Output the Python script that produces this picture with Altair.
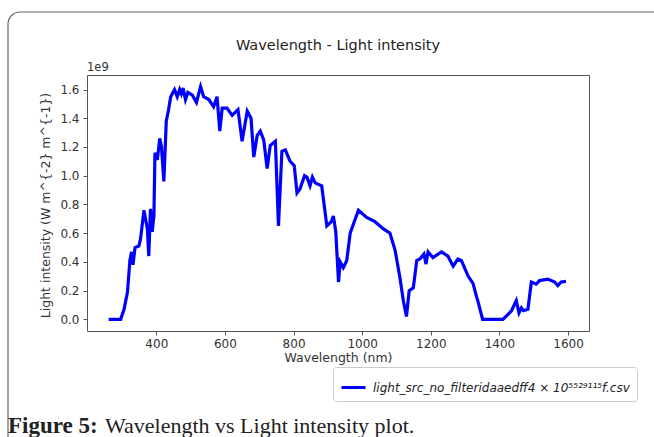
import altair as alt
import pandas as pd

# ---- data ----
wavelength_nm = [
    261, 280, 296, 306, 316, 323, 328, 332, 338, 349, 354, 364, 374, 378, 383, 388, 393, 396,
    403, 410, 415, 422, 429, 435, 442, 453, 461, 468, 473, 478, 485, 492, 505, 517, 529, 538,
    553, 567, 577, 585, 592, 606, 621, 638, 650, 665, 676, 684, 694, 703, 713, 723, 732, 747,
    756, 766, 776, 790, 802, 810, 819, 832, 839, 848, 855, 863, 882, 897, 910, 916, 923, 931,
    936, 945, 955, 965, 974, 989, 1013, 1037, 1062, 1081, 1096, 1110, 1120, 1129, 1137, 1149,
    1159, 1168, 1180, 1186, 1192, 1206, 1231, 1250, 1265, 1279, 1289, 1309, 1323, 1333, 1338,
    1351, 1410, 1425, 1435, 1449, 1457, 1464, 1470, 1483, 1493, 1507, 1517, 1541, 1561, 1570,
    1580, 1594,
]
intensity_1e9 = [
    0.0, 0.0, 0.0, 0.07, 0.19, 0.41, 0.47, 0.38, 0.50, 0.51, 0.56, 0.76, 0.63, 0.44, 0.77, 0.61, 0.72, 1.16,
    1.11, 1.26, 1.20, 0.96, 1.38, 1.45, 1.55, 1.60, 1.55, 1.60, 1.57, 1.61, 1.53, 1.58, 1.56, 1.51, 1.62, 1.55,
    1.53, 1.48, 1.55, 1.31, 1.47, 1.47, 1.42, 1.46, 1.24, 1.45, 1.40, 1.13, 1.28, 1.31, 1.25, 1.05, 1.21, 1.24,
    0.65, 1.17, 1.18, 1.10, 1.07, 0.88, 0.91, 1.00, 0.99, 0.93, 0.99, 0.95, 0.93, 0.65, 0.68, 0.72, 0.61, 0.26,
    0.40, 0.36, 0.41, 0.60, 0.66, 0.76, 0.71, 0.68, 0.63, 0.60, 0.48, 0.29, 0.13, 0.02, 0.20, 0.22,
    0.41, 0.42, 0.455, 0.385, 0.47, 0.43, 0.47, 0.44, 0.37, 0.42, 0.41, 0.30, 0.25, 0.16, 0.12,
    0.0, 0.0, 0.035, 0.06, 0.13, 0.045, 0.08, 0.06, 0.07, 0.26, 0.245, 0.27, 0.28, 0.26, 0.235,
    0.26, 0.265,
]
series_name = "light_src_no_filteridaaedff4 \u00d7 10\u2075\u2075\u00b2\u2079\u00b9\u00b9\u2075f.csv"
x_ticks = [400, 600, 800, 1000, 1200, 1400, 1600]
y_ticks = [0.0, 0.2, 0.4, 0.6, 0.8, 1.0, 1.2, 1.4, 1.6]

chart_title = "Wavelength - Light intensity"
x_title = "Wavelength (nm)"
y_title = "Light intensity (W m^{-2} m^{-1})"
offset_text = "1e9"
caption_bold = "Figure 5:"
caption_rest = "Wavelength vs Light intensity plot."

df = pd.DataFrame({"wavelength": wavelength_nm, "intensity": intensity_1e9, "series": series_name})
one = pd.DataFrame({"k": [0]})

PW, PH = 502, 256
SANS = "DejaVu Sans"

line = alt.Chart(df).mark_line(strokeWidth=3.2).encode(
    x=alt.X(
        "wavelength:Q",
        scale=alt.Scale(domain=[198, 1661], nice=False, zero=False),
        axis=alt.Axis(
            values=x_ticks, format="d", title=x_title, grid=False, domain=False,
            tickSize=4, tickColor="#555", labelPadding=3, labelFontSize=12,
            labelFont=SANS, labelColor="#333", titleFont=SANS, titleFontSize=12.5,
            titleFontWeight="normal", titleColor="#333", titleY=30,
            titleBaseline="alphabetic",
        ),
    ),
    y=alt.Y(
        "intensity:Q",
        scale=alt.Scale(domain=[-0.081, 1.701], nice=False, zero=False),
        axis=alt.Axis(
            values=y_ticks, format=".1f", title=y_title, grid=False, domain=False,
            tickSize=4, tickColor="#555", labelPadding=4, labelFontSize=12,
            labelFont=SANS, labelColor="#333", titleFont=SANS, titleFontSize=12.5,
            titleFontWeight="normal", titleColor="#333", titleX=-42, titleY=PH / 2 + 2,
            titleAngle=-90, titleBaseline="middle", titleAlign="center",
        ),
    ),
    color=alt.Color(
        "series:N",
        scale=alt.Scale(range=["#0000ff"]),
        legend=alt.Legend(
            title=None, orient="none", legendX=246, legendY=292,
            symbolType="stroke", symbolSize=576, symbolStrokeWidth=3,
            labelFont=SANS, labelFontSize=12, labelFontStyle="italic",
            labelColor="#222", labelLimit=600, labelOffset=6,
            padding=7, strokeColor="#cccccc", cornerRadius=3, fillColor="white",
        ),
    ),
)

title_text = alt.Chart(one).mark_text(
    text=chart_title, font=SANS, fontSize=14.5, color="#222", align="center", baseline="alphabetic"
).encode(x=alt.value(PW / 2), y=alt.value(-25))

offset_label = alt.Chart(one).mark_text(
    text=offset_text, font=SANS, fontSize=11.5, color="#333", align="left", baseline="alphabetic"
).encode(x=alt.value(0), y=alt.value(-4))

border = alt.Chart(one).mark_rect(
    fill="white", fillOpacity=0, stroke="#666", strokeWidth=1.2, cornerRadius=12
).encode(x=alt.value(-79), x2=alt.value(700), y=alt.value(-63), y2=alt.value(420))

cap1 = alt.Chart(one).mark_text(
    text=caption_bold, font="Liberation Serif", fontSize=23, fontWeight="bold",
    color="#222", align="left", baseline="alphabetic"
).encode(x=alt.value(-79), y=alt.value(358))

cap2 = alt.Chart(one).mark_text(
    text=caption_rest, font="Liberation Serif", fontSize=22, fontWeight="normal",
    color="#222", align="left", baseline="alphabetic"
).encode(x=alt.value(18), y=alt.value(358))

chart = alt.layer(border, line, title_text, offset_label, cap1, cap2).properties(
    width=PW, height=PH,
    autosize=alt.AutoSizeParams(type="none"),
    padding={"left": 87, "top": 75, "right": 65, "bottom": 106},
    background="white",
).configure_view(stroke="#555", strokeWidth=1)

chart.save("out.html", embed_options={"renderer": "svg", "actions": False})
